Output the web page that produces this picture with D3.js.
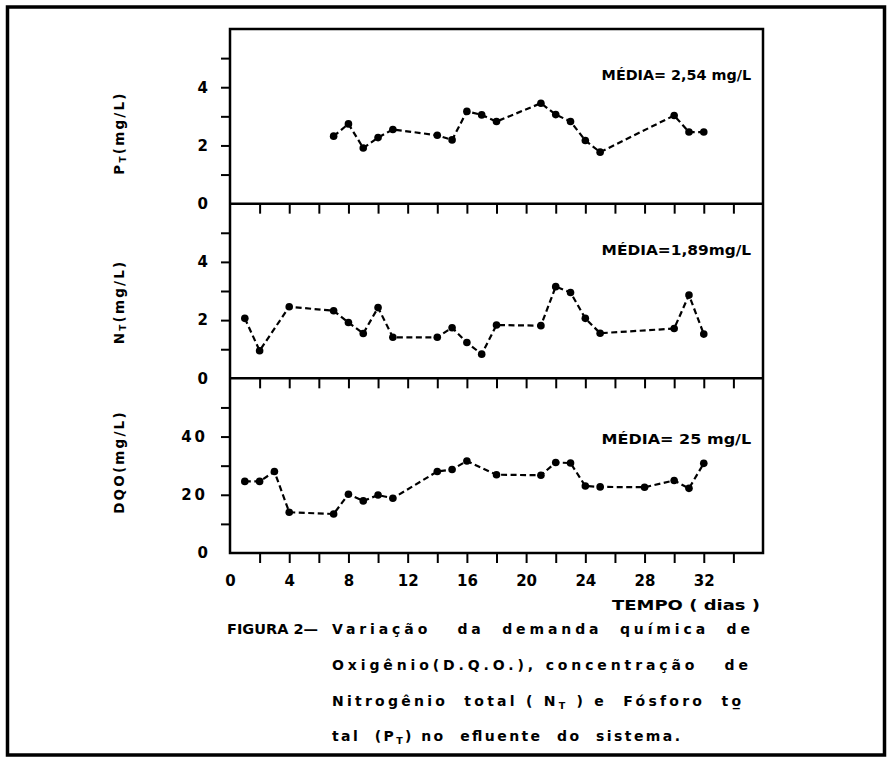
<!DOCTYPE html>
<html>
<head>
<meta charset="utf-8">
<script src="https://cdn.jsdelivr.net/npm/d3@7"></script>
<style>
  body { margin: 0; background: #fff; }
  svg { display: block; }
  text { font-family: "DejaVu Sans", sans-serif; font-weight: bold; fill: #000; }
</style>
</head>
<body>
<svg id="fig" width="894" height="757"></svg>
<script>
// Fósforo total (P_T), mg/L
const ptDays   = [7, 8, 9, 10, 11, 14, 15, 16, 17, 18, 21, 22, 23, 24, 25, 30, 31, 32];
const ptValues = [2.32, 2.74, 1.91, 2.27, 2.55, 2.35, 2.19, 3.17, 3.05, 2.82, 3.45, 3.06, 2.82, 2.17, 1.77, 3.03, 2.46, 2.46];

// Nitrogênio total (N_T), mg/L
const ntDays   = [1, 2, 4, 7, 8, 9, 10, 11, 14, 15, 16, 17, 18, 21, 22, 23, 24, 25, 30, 31, 32];
const ntValues = [2.06, 0.95, 2.46, 2.32, 1.92, 1.54, 2.43, 1.41, 1.41, 1.74, 1.23, 0.83, 1.83, 1.81, 3.15, 2.95, 2.06, 1.55, 1.71, 2.86, 1.52];

// DQO, mg/L
const dqoDays   = [1, 2, 3, 4, 7, 8, 9, 10, 11, 14, 15, 16, 18, 21, 22, 23, 24, 25, 28, 30, 31, 32];
const dqoValues = [24.6, 24.6, 28.0, 14.0, 13.4, 20.2, 17.9, 19.9, 18.8, 28.0, 28.7, 31.6, 26.9, 26.7, 31.1, 30.9, 23.0, 22.7, 22.6, 24.9, 22.2, 30.8];

// Axis ticks and labels
const xTickDays   = [2, 4, 6, 8, 10, 12, 14, 16, 18, 20, 22, 24, 26, 28, 30, 32, 34];
const xTickLabels = [0, 4, 8, 12, 16, 20, 24, 28, 32];
const ptTicks  = [1, 2, 3, 4, 5];
const ptLabels = [0, 2, 4];
const ntTicks  = [1, 2, 3, 4, 5];
const ntLabels = [0, 2, 4];
const dqoTicks  = [10, 20, 30, 40, 50];
const dqoLabels = [0, 20, 40];

const meanLabels = ["MÉDIA= 2,54 mg/L", "MÉDIA=1,89mg/L", "MÉDIA= 25 mg/L"];
const meanLevels = [4.45, 4.42, 39.2];

const svg = d3.select("#fig");

// outer frame of the figure
svg.append("rect")
  .attr("x", 7.5).attr("y", 7).attr("width", 877).attr("height", 748)
  .attr("fill", "none").attr("stroke", "#000").attr("stroke-width", 3.5);

const plotLeft = 230, plotRight = 763, plotTop = 29, plotBottom = 553;
const panelH = (plotBottom - plotTop) / 3;

const x = d3.scaleLinear().domain([0, 36]).range([plotLeft, plotRight]);

const panels = [
  { days: ptDays,  values: ptValues,  max: 6,  ticks: ptTicks,  labels: ptLabels,  sub: "T", head: "P", tail: "(mg/L)", titleY: 133 },
  { days: ntDays,  values: ntValues,  max: 6,  ticks: ntTicks,  labels: ntLabels,  sub: "T", head: "N", tail: "(mg/L)", titleY: 302 },
  { days: dqoDays, values: dqoValues, max: 60, ticks: dqoTicks, labels: dqoLabels, sub: null, head: "DQO", tail: "(mg/L)", titleY: 462 }
];

panels.forEach((p, i) => {
  const y0 = plotTop + i * panelH;
  const y = d3.scaleLinear().domain([0, p.max]).range([y0 + panelH, y0]);
  const g = svg.append("g");

  // y ticks (outward)
  const yAxis = d3.axisLeft(y).tickValues(p.ticks).tickSize(9).tickFormat("");
  g.append("g").attr("transform", `translate(${plotLeft},0)`).call(yAxis)
    .call(a => a.select(".domain").remove())
    .call(a => a.selectAll("line").attr("stroke", "#000").attr("stroke-width", 2));

  // y tick labels
  const yLab = d3.axisLeft(y).tickValues(p.labels).tickSize(0).tickPadding(22).tickFormat(d3.format("d"));
  g.append("g").attr("transform", `translate(${plotLeft},0)`).call(yLab)
    .call(a => a.select(".domain").remove())
    .call(a => a.selectAll("text")
      .attr("font-family", "DejaVu Sans").attr("font-weight", "bold")
      .attr("font-size", 15).attr("fill", "#000")
      .attr("letter-spacing", d => d >= 10 ? 3 : 0));

  // x ticks hanging down from the panel's lower edge
  const xAxis = d3.axisBottom(x).tickValues(xTickDays).tickSize(10).tickFormat("");
  g.append("g").attr("transform", `translate(0,${y0 + panelH})`).call(xAxis)
    .call(a => a.select(".domain").remove())
    .call(a => a.selectAll("line").attr("stroke", "#000").attr("stroke-width", 2));

  // series line
  const pts = p.days.map((d, k) => ({ day: d, v: p.values[k] }));
  const line = d3.line().x(d => x(d.day)).y(d => y(d.v));
  g.append("path").datum(pts)
    .attr("d", line).attr("fill", "none").attr("stroke", "#000")
    .attr("stroke-width", 2.2).attr("stroke-dasharray", "6,3.5");

  g.selectAll("circle").data(pts).join("circle")
    .attr("cx", d => x(d.day)).attr("cy", d => y(d.v)).attr("r", 3.8).attr("fill", "#000");

  // mean annotation
  g.append("text")
    .attr("x", x(25.1)).attr("y", y(meanLevels[i]) + 5.5)
    .attr("font-size", 14)
    .attr("textLength", x(35.2) - x(25.1)).attr("lengthAdjust", "spacingAndGlyphs")
    .style("white-space", "pre")
    .text(meanLabels[i]);

  // vertical axis title
  const t = svg.append("text")
    .attr("transform", `translate(124,${p.titleY}) rotate(-90)`)
    .attr("text-anchor", "middle").attr("font-size", 13.5).attr("letter-spacing", 2.2);
  t.append("tspan").text(p.head);
  if (p.sub) {
    t.append("tspan").attr("font-size", 9).attr("dy", 2).text(p.sub);
    t.append("tspan").attr("dy", -2).text(p.tail);
  } else {
    t.append("tspan").text(p.tail);
  }
});

// plot frame and panel separators
svg.append("rect")
  .attr("x", plotLeft).attr("y", plotTop).attr("width", plotRight - plotLeft).attr("height", plotBottom - plotTop)
  .attr("fill", "none").attr("stroke", "#000").attr("stroke-width", 2.5);
[1, 2].forEach(k => {
  svg.append("line")
    .attr("x1", plotLeft).attr("x2", plotRight)
    .attr("y1", plotTop + k * panelH).attr("y2", plotTop + k * panelH)
    .attr("stroke", "#000").attr("stroke-width", 2.5);
});

// x tick labels
const xLab = d3.axisBottom(x).tickValues(xTickLabels).tickSize(0).tickPadding(22).tickFormat(d3.format("d"));
svg.append("g").attr("transform", `translate(0,${plotBottom})`).call(xLab)
  .call(a => a.select(".domain").remove())
  .call(a => a.selectAll("text")
    .attr("font-family", "DejaVu Sans").attr("font-weight", "bold")
    .attr("font-size", 15).attr("fill", "#000"));

// x axis title
svg.append("text").attr("x", 612).attr("y", 610)
  .attr("font-size", 14).attr("textLength", 148).attr("lengthAdjust", "spacingAndGlyphs")
  .style("white-space", "pre").text("TEMPO ( dias )");

// caption
const cap = svg.append("g").attr("font-size", 14);
cap.append("text").attr("x", 227).attr("y", 634)
  .attr("textLength", 91).attr("lengthAdjust", "spacingAndGlyphs")
  .style("white-space", "pre").text("FIGURA 2—");
cap.append("text").attr("x", 332).attr("y", 634)
  .attr("textLength", 418).attr("lengthAdjust", "spacing")
  .style("white-space", "pre").text("Variação   da  demanda  química  de");
cap.append("text").attr("x", 332).attr("y", 670)
  .attr("textLength", 416).attr("lengthAdjust", "spacing")
  .style("white-space", "pre").text("Oxigênio(D.Q.O.), concentração   de");

const l3 = cap.append("text").attr("x", 332).attr("y", 706)
  .attr("textLength", 409).attr("lengthAdjust", "spacing")
  .style("white-space", "pre");
l3.append("tspan").text("Nitrogênio  total ( N");
l3.append("tspan").attr("font-size", 9.5).attr("dy", 3).text("T");
l3.append("tspan").attr("dy", -3).text(" ) e  Fósforo  to\u0332");

const l4 = cap.append("text").attr("x", 332).attr("y", 741)
  .attr("textLength", 348).attr("lengthAdjust", "spacing")
  .style("white-space", "pre");
l4.append("tspan").text("tal  (P");
l4.append("tspan").attr("font-size", 9.5).attr("dy", 3).text("T");
l4.append("tspan").attr("dy", -3).text(") no  efluente  do  sistema.");
</script>
</body>
</html>
